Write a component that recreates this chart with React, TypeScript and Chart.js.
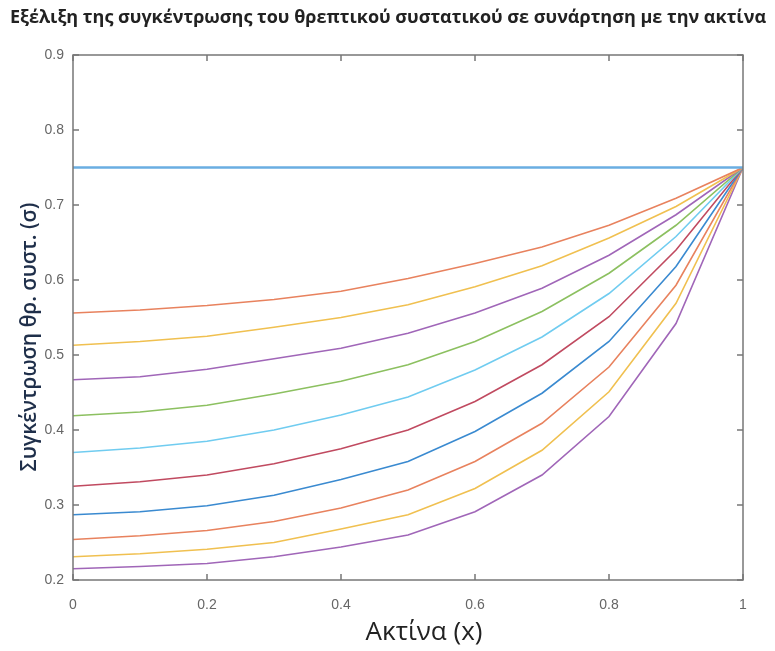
import React, { useEffect, useRef } from "react";
import { Chart, registerables } from "chart.js";

Chart.register(...registerables);

const titleText = "Εξέλιξη της συγκέντρωσης του θρεπτικού συστατικού σε συνάρτηση με την ακτίνα";
const xAxisTitle = "Ακτίνα (x)";
const yAxisTitle = "Συγκέντρωση θρ. συστ. (σ)";

const radius = [0, 0.1, 0.2, 0.3, 0.4, 0.5, 0.6, 0.7, 0.8, 0.9, 1];

const s0 = [0.75, 0.75, 0.75, 0.75, 0.75, 0.75, 0.75, 0.75, 0.75, 0.75, 0.75];
const s1 = [0.556, 0.56, 0.566, 0.574, 0.585, 0.602, 0.622, 0.644, 0.673, 0.709, 0.75];
const s2 = [0.513, 0.518, 0.525, 0.537, 0.55, 0.567, 0.591, 0.619, 0.656, 0.698, 0.75];
const s3 = [0.467, 0.471, 0.481, 0.495, 0.509, 0.529, 0.556, 0.589, 0.633, 0.687, 0.75];
const s4 = [0.419, 0.424, 0.433, 0.448, 0.465, 0.487, 0.518, 0.558, 0.609, 0.673, 0.75];
const s5 = [0.37, 0.376, 0.385, 0.4, 0.42, 0.444, 0.48, 0.524, 0.582, 0.658, 0.75];
const s6 = [0.325, 0.331, 0.34, 0.355, 0.375, 0.4, 0.438, 0.487, 0.551, 0.64, 0.75];
const s7 = [0.287, 0.291, 0.299, 0.313, 0.334, 0.358, 0.398, 0.449, 0.518, 0.618, 0.75];
const s8 = [0.254, 0.259, 0.266, 0.278, 0.296, 0.32, 0.358, 0.409, 0.484, 0.593, 0.75];
const s9 = [0.231, 0.235, 0.241, 0.25, 0.268, 0.287, 0.322, 0.373, 0.451, 0.569, 0.75];
const s10 = [0.215, 0.218, 0.222, 0.231, 0.244, 0.26, 0.291, 0.34, 0.418, 0.542, 0.75];

const seriesList = [s0, s1, s2, s3, s4, s5, s6, s7, s8, s9, s10];
const seriesColors = [
  "#6aaee2",
  "#e8825e",
  "#f0c050",
  "#a066b8",
  "#8cc060",
  "#70ccf0",
  "#c04a60",
  "#3a8ad0",
  "#e8825e",
  "#f0c050",
  "#a066b8",
];

const frameColor = "#777777";

const fmt = (v: any) => String(+Number(v).toFixed(2));

const framePlugin = {
  id: "framePlugin",
  afterDraw(chart: any) {
    const { ctx, chartArea } = chart;
    const { left, right, top, bottom } = chartArea;
    const xs = chart.scales.x;
    const ys = chart.scales.y;
    ctx.save();
    ctx.strokeStyle = frameColor;
    ctx.lineWidth = 1.5;
    ctx.strokeRect(left, top, right - left, bottom - top);
    const tl = 6;
    ctx.beginPath();
    xs.ticks.forEach((t: any) => {
      const px = xs.getPixelForValue(t.value);
      ctx.moveTo(px, bottom);
      ctx.lineTo(px, bottom - tl);
      ctx.moveTo(px, top);
      ctx.lineTo(px, top + tl);
    });
    ys.ticks.forEach((t: any) => {
      const py = ys.getPixelForValue(t.value);
      ctx.moveTo(left, py);
      ctx.lineTo(left + tl, py);
      ctx.moveTo(right, py);
      ctx.lineTo(right - tl, py);
    });
    ctx.stroke();

    ctx.textAlign = "center";
    ctx.textBaseline = "middle";

    // chart title
    ctx.fillStyle = "#222222";
    ctx.font = "bold 18px 'Open Sans'";
    ctx.fillText(titleText, 388, 18);

    // axis titles
    ctx.font = "26px 'Open Sans'";
    ctx.fillText(xAxisTitle, 424, 633);

    ctx.translate(30, 337);
    ctx.rotate(-Math.PI / 2);
    ctx.fillStyle = "#1f2f4a";
    ctx.font = "600 21px 'Open Sans'";
    ctx.fillText(yAxisTitle, 0, 0);
    ctx.restore();
  },
};

export default function App() {
  const ref = useRef<HTMLCanvasElement | null>(null);

  useEffect(() => {
    if (!ref.current) return;
    const datasets = seriesList.map((s, i) => ({
      label: "s" + i,
      data: radius.map((x, j) => ({ x, y: s[j] })),
      borderColor: seriesColors[i],
      backgroundColor: seriesColors[i],
      borderWidth: i === 0 ? 2.5 : 1.6,
      pointRadius: 0,
      tension: 0,
      fill: false,
    }));
    const chart = new Chart(ref.current, {
      type: "line",
      data: { datasets },
      options: {
        animation: false,
        responsive: false,
        maintainAspectRatio: false,
        layout: { padding: { left: 0, right: 32, top: 55, bottom: 0 } },
        plugins: {
          legend: { display: false },
          tooltip: { enabled: false },
          title: { display: false },
        },
        scales: {
          x: {
            type: "linear",
            min: 0,
            max: 1,
            ticks: {
              stepSize: 0.2,
              color: "#666666",
              font: { family: "'Liberation Sans'", size: 14 },
              padding: 17,
              maxRotation: 0,
              callback: fmt,
            },
            grid: { display: false, drawTicks: false },
            border: { display: false },
            afterFit: (scale: any) => {
              scale.height = 71;
            },
          },
          y: {
            type: "linear",
            min: 0.2,
            max: 0.9,
            ticks: {
              stepSize: 0.1,
              color: "#666666",
              font: { family: "'Liberation Sans'", size: 14 },
              padding: 9,
              callback: fmt,
            },
            grid: { display: false, drawTicks: false },
            border: { display: false },
            afterFit: (scale: any) => {
              scale.width = 73;
            },
          },
        },
      },
      plugins: [framePlugin],
    });
    return () => chart.destroy();
  }, []);

  return (
    <div style={{ position: "absolute", left: 0, top: 0, width: 775, height: 651, background: "#ffffff" }}>
      <canvas ref={ref} width={775} height={651} style={{ display: "block" }} />
    </div>
  );
}
